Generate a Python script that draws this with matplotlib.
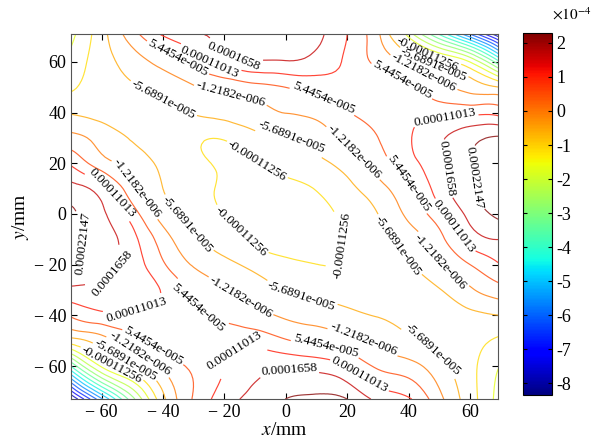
import numpy as np
import matplotlib
matplotlib.use("Agg")
import matplotlib.pyplot as plt
import matplotlib.tri as mtri
from matplotlib.colors import Normalize
from matplotlib.cm import ScalarMappable

plt.rcParams['font.family'] = ['Liberation Serif', 'DejaVu Serif']
plt.rcParams['mathtext.fontset'] = 'stix'

# sample positions (mm)
x_mm = [-70, -60, -50, -40, -30, -20, -10, 0, 10, 20, 30, 40, 50, 60, 70]
y_mm = [71, 60, 50, 40, 30, 20, 10, 0, -10, -20, -30, -40, -50, -60, -73]

# field, in units of 1e-4 (rows follow y_mm)
z_e4 = [
    [-1.85, -0.78, 0.32, 1.18, 1.58, 1.75, 1.82, 1.85, 1.78, 1.10, 0.08, -1.93, -3.98, -6.17, -8.45],
    [-1.50, -0.82, -0.30, 0.20, 0.75, 1.35, 1.60, 1.62, 1.45, 1.00, 0.40, -0.16, -0.90, -1.70, -3.96],
    [-1.20, -0.89, -0.63, -0.37, -0.06, 0.15, 0.37, 0.55, 0.76, 0.92, 0.82, 0.60, 0.17, -0.22, -0.57],
    [-0.62, -0.78, -0.85, -0.72, -0.53, -0.36, -0.20, 0.00, 0.15, 0.52, 0.75, 0.95, 0.90, 0.95, 0.88],
    [0.16, -0.23, -0.63, -0.85, -1.00, -1.08, -0.74, -0.60, -0.36, 0.15, 0.54, 1.05, 1.55, 2.05, 2.27],
    [1.02, 0.23, -0.25, -0.68, -0.97, -1.20, -1.16, -0.96, -0.72, -0.35, 0.25, 0.90, 1.51, 2.14, 2.35],
    [1.86, 1.34, 0.17, -0.57, -0.92, -1.20, -1.30, -1.25, -1.10, -0.73, -0.22, 0.45, 1.37, 2.15, 2.35],
    [2.30, 1.77, 0.82, -0.29, -0.81, -1.13, -1.30, -1.35, -1.25, -1.02, -0.57, 0.11, 0.88, 1.84, 2.35],
    [2.35, 1.96, 1.28, 0.26, -0.45, -0.85, -1.20, -1.35, -1.30, -1.08, -0.78, -0.31, 0.36, 1.34, 1.66],
    [2.20, 1.84, 1.39, 0.62, -0.06, -0.40, -0.75, -1.00, -1.12, -1.10, -0.86, -0.62, -0.07, 0.54, 1.10],
    [1.54, 1.55, 1.40, 1.05, 0.39, 0.06, -0.27, -0.60, -0.74, -0.85, -0.85, -0.75, -0.60, -0.10, 0.32],
    [0.60, 0.95, 1.00, 0.95, 0.70, 0.40, 0.15, -0.10, -0.25, -0.43, -0.60, -0.72, -0.78, -0.70, -0.57],
    [-0.82, -0.27, 0.31, 0.80, 0.95, 0.95, 0.90, 0.60, 0.42, 0.17, -0.10, -0.46, -0.73, -0.95, -1.24],
    [-3.90, -1.60, -0.73, 0.11, 0.67, 1.10, 1.45, 1.55, 1.45, 1.10, 0.45, 0.20, -0.37, -0.97, -1.72],
    [-8.45, -5.68, -3.00, -0.71, 0.60, 1.40, 1.86, 2.22, 2.32, 2.22, 1.52, 1.17, 0.15, -0.88, -1.95],
]

# contour levels (x1e-4) and the text printed for each
levels_e4 = [-8.363, -7.806, -7.250, -6.693, -6.136, -5.579, -5.023, -4.466, -3.909,
             -3.352, -2.796, -2.239, -1.6823, -1.1256, -0.56891, -0.012182,
             0.54454, 1.1013, 1.658, 2.2147]
label_text = ['-0.0008363', '-0.00078061', '-0.0007250', '-0.00066928', '-0.00061358',
              '-0.00055789', '-0.00050230', '-0.00044660', '-0.00039091', '-0.00033521',
              '-0.00027952', '-0.00022382', '-0.00016823', '-0.00011256', '-5.6891e-005',
              '-1.2182e-006', '5.4454e-005', '0.00011013', '0.0001658', '0.00022147']

# where the labels sit (data coords)
label_pos = [(-16, 66), (-25, 60), (-35, 62), (-18, 47), (-40, 45), (12, 45), (2, 31),
             (-10, 20), (22, 24), (40, 12), (37, -12), (20, -12), (-14, -6), (51, -18),
             (56, -4), (55, 18), (62, 14), (52, 37), (38, 53), (45, 56), (48, 59), (46, 63),
             (-65, -12), (-58, -22), (-57, 8), (-49, 10), (-33, -5), (-49, -36), (-28, -36),
             (-15, -33), (5, -32), (26, -47), (13, -52), (-16, -57), (25, -62), (1, -63),
             (47, -55), (-42, -50), (-47, -54), (-52, -57), (-57, -60)]

xticks = [-60, -40, -20, 0, 20, 40, 60]
yticks = [-60, -40, -20, 0, 20, 40, 60]
cbar_ticks = [-8, -7, -6, -5, -4, -3, -2, -1, 0, 1, 2]


def tick_text(v):
    return ('\u2212 ' + str(-v)) if v < 0 else str(v)


fig = plt.figure(figsize=(6.01, 4.41), dpi=100)
ax = fig.add_axes([0.118, 0.095, 0.710, 0.828])

X, Y = np.meshgrid(x_mm, y_mm)
Z = np.array(z_e4)
tri = mtri.Triangulation(X.ravel(), Y.ravel())
tri_f, z_f = mtri.UniformTriRefiner(tri).refine_field(Z.ravel(), subdiv=3)

norm = Normalize(vmin=-8.35, vmax=2.29)
jet = plt.get_cmap('jet')
# slightly washed-out line colours, as in the scanned figure
line_cols = [tuple(0.78 * np.array(jet(norm(v))[:3]) + 0.22) for v in levels_e4]
cs = ax.tricontour(tri_f, z_f, levels=levels_e4, colors=line_cols, linewidths=0.85)
fmt = dict(zip(cs.levels, label_text))
ax.clabel(cs, fmt=fmt, manual=label_pos, inline=True,
          fontsize=9.5, colors='k', inline_spacing=2)

ax.set_xlim(-70, 69)
ax.set_ylim(-73, 71)
ax.set_xticks(xticks)
ax.set_xticklabels([tick_text(v) for v in xticks])
ax.set_yticks(yticks)
ax.set_yticklabels([tick_text(v) for v in yticks])
ax.tick_params(direction='in', top=True, right=True, labelsize=13, length=4)
for s in ax.spines.values():
    s.set_color('#555555')
ax.set_xlabel(r'$x$/mm', fontsize=14, labelpad=1)
ax.set_ylabel(r'$y$/mm', fontsize=14, labelpad=2)

cax = fig.add_axes([0.870, 0.104, 0.048, 0.821])
cb = fig.colorbar(ScalarMappable(norm=norm, cmap=jet), cax=cax)
cb.set_ticks(cbar_ticks)
cb.set_ticklabels([str(v) for v in cbar_ticks])
cax.tick_params(direction='in', left=True, right=True, labelsize=13, length=3)
fig.text(0.952, 0.968, r'$\times10^{-4}$', fontsize=11, ha='center', va='center')

fig.savefig('out.png', dpi=100)
